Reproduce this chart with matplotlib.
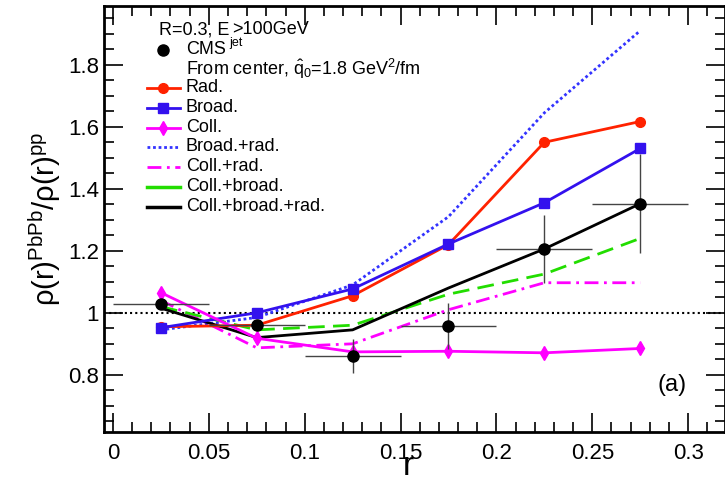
import matplotlib.pyplot as plt
import numpy as np
from matplotlib.ticker import MultipleLocator

plt.rcParams['font.family'] = ['Liberation Sans', 'DejaVu Sans']
plt.rcParams['mathtext.fontset'] = 'custom'
plt.rcParams['mathtext.rm'] = 'Liberation Sans'
plt.rcParams['mathtext.it'] = 'Liberation Sans'

# data
r = [0.025, 0.075, 0.125, 0.175, 0.225, 0.275]
cms = [1.029, 0.960, 0.860, 0.958, 1.206, 1.352]
cms_xerr = [0.025, 0.025, 0.025, 0.025, 0.025, 0.025]
cms_yerr = [0.015, 0.012, 0.055, 0.075, 0.11, 0.16]
rad = [0.955, 0.960, 1.055, 1.220, 1.550, 1.617]
broad = [0.952, 1.000, 1.077, 1.222, 1.355, 1.530]
coll = [1.065, 0.918, 0.874, 0.876, 0.871, 0.885]
broad_rad = [0.945, 0.985, 1.090, 1.310, 1.645, 1.910]
coll_rad = [1.040, 0.887, 0.900, 1.010, 1.097, 1.097]
coll_broad = [1.020, 0.945, 0.960, 1.060, 1.125, 1.240]
coll_broad_rad = [1.015, 0.920, 0.945, 1.080, 1.206, 1.352]

fig = plt.figure(figsize=(7.25, 4.88), dpi=100)
ax = fig.add_axes([0.1434, 0.115, 0.856, 0.873])

ax.axhline(1.0, color='black', linestyle=(0, (1, 1.5)), linewidth=1.5, zorder=1)

ax.plot(r, broad_rad, color='#3333ff', linestyle=(0, (1, 1)), linewidth=2)
ax.plot(r, coll_rad, color='#ff00ff', linestyle=(0, (5, 2, 1, 2)), linewidth=2)
ax.plot(r, coll_broad, color='#22dd00', linestyle=(0, (6, 3)), linewidth=2)
ax.plot(r, coll_broad_rad, color='black', linewidth=2)
ax.plot(r, rad, color='#ff2200', marker='o', markersize=7, linewidth=2)
ax.plot(r, broad, color='#3311ee', marker='s', markersize=7, linewidth=2)
ax.plot(r, coll, color='#ff00ff', marker='d', markersize=7, linewidth=2)
ax.errorbar(r, cms, xerr=cms_xerr, yerr=cms_yerr, fmt='o', color='black',
            ecolor='#444444', elinewidth=1, markersize=8, capsize=0, zorder=6)

ax.set_xlim(-0.0047, 0.319)
ax.set_ylim(0.616, 1.99)
ax.xaxis.set_minor_locator(MultipleLocator(0.01))
ax.yaxis.set_minor_locator(MultipleLocator(0.05))
ax.set_xticks([0, 0.05, 0.1, 0.15, 0.2, 0.25, 0.3])
ax.set_xticklabels(['0', '0.05', '0.1', '0.15', '0.2', '0.25', '0.3'])
ax.set_yticks([0.8, 1.0, 1.2, 1.4, 1.6, 1.8])
ax.set_yticklabels(['0.8', '1', '1.2', '1.4', '1.6', '1.8'])
ax.tick_params(which='both', direction='in', top=True, right=True, labelsize=16, width=1.2)
ax.tick_params(which='major', length=14)
ax.tick_params(which='minor', length=7)
ax.tick_params(axis='x', pad=8)
for s in ax.spines.values():
    s.set_linewidth(2)

ax.set_ylabel(r'$\rho(r)^{PbPb}/\rho(r)^{pp}$', fontsize=21, labelpad=4)
ax.set_xlabel('r', fontsize=24)
ax.xaxis.set_label_coords(0.49, -0.045)

ax.text(0.915, 0.11, '(a)', transform=ax.transAxes, fontsize=17, ha='center', va='center')

# legend drawn by hand
fs = 13
tr = ax.transAxes
def ax_xy(px, py):
    return (px - 104) / 621.0, 1 - (py - 6) / 426.0

x0, _ = ax_xy(147, 0)
x1, _ = ax_xy(180, 0)
xt, _ = ax_xy(186, 0)
_, yt = ax_xy(0, 30)
ax.text(ax_xy(159, 0)[0], yt, 'R=0.3, E', transform=tr, fontsize=fs, va='center')
ax.text(ax_xy(232, 0)[0], yt, '>100GeV', transform=tr, fontsize=fs, va='center')
_, yc = ax_xy(0, 50)
ax.plot([ax_xy(163, 0)[0]], [yc], 'o', color='black', markersize=8, transform=tr)
ax.text(xt, yc, 'CMS', transform=tr, fontsize=fs, va='center')
_, yj = ax_xy(0, 43)
ax.text(ax_xy(229, 0)[0], yj, 'jet', transform=tr, fontsize=9, va='center')
_, yf = ax_xy(0, 69)
ax.text(xt, yf, r'From center, $\hat{\mathrm{q}}_0$=1.8 GeV$^2$/fm', transform=tr, fontsize=fs, va='center')

entries = [
    ('Rad.', dict(color='#ff2200', marker='o', markersize=7, linewidth=2), 88),
    ('Broad.', dict(color='#3311ee', marker='s', markersize=7, linewidth=2), 108),
    ('Coll.', dict(color='#ff00ff', marker='d', markersize=7, linewidth=2), 128),
    ('Broad.+rad.', dict(color='#3333ff', linestyle=(0, (1, 1)), linewidth=2), 147),
    ('Coll.+rad.', dict(color='#ff00ff', linestyle=(0, (5, 2, 1, 2)), linewidth=2), 167),
    ('Coll.+broad.', dict(color='#22dd00', linewidth=2.5), 187),
    ('Coll.+broad.+rad.', dict(color='black', linewidth=2.5), 207),
]
for label, kw, py in entries:
    _, yy = ax_xy(0, py)
    mk = kw.pop('marker', None)
    ms = kw.pop('markersize', None)
    ax.plot([x0, x1], [yy, yy], transform=tr, **kw)
    if mk:
        ax.plot([(x0 + x1) / 2], [yy], marker=mk, markersize=ms, color=kw['color'], transform=tr)
    ax.text(xt, yy, label, transform=tr, fontsize=fs, va='center')

fig.savefig('out.png', dpi=100)
